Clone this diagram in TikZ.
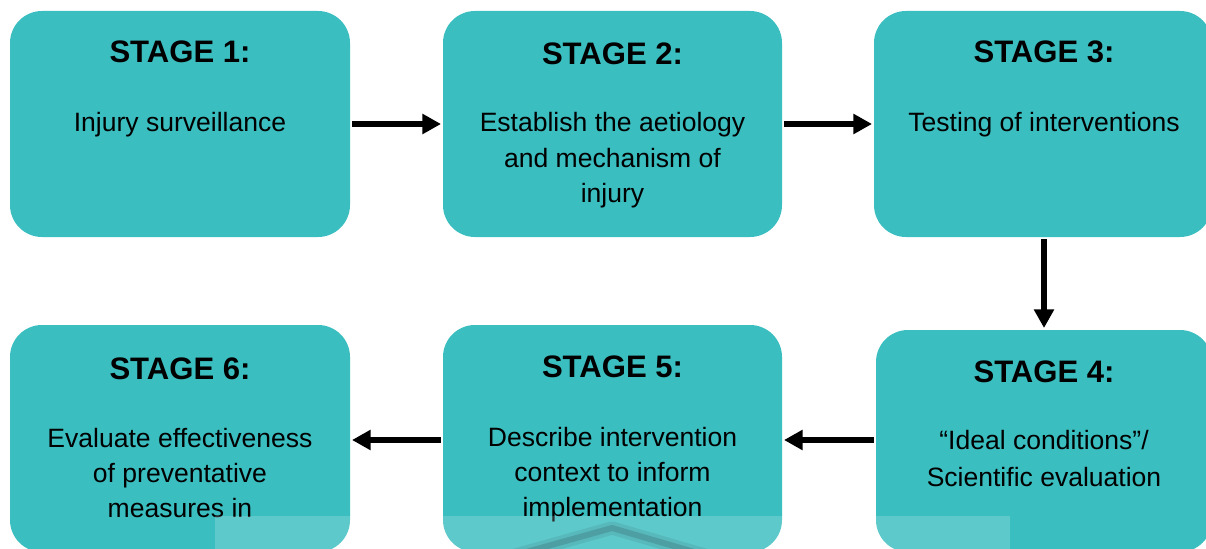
\documentclass[tikz,border=0pt]{standalone}
\usepackage{fontspec}
\setmainfont{Liberation Sans}
\usetikzlibrary{arrows.meta}
\definecolor{tealbox}{HTML}{3BBEC0}
\definecolor{tealdark}{HTML}{237F84}
\tikzset{
  stagebox/.style={fill=tealbox, draw=none, rounded corners=24pt, inner sep=0pt, outer sep=0pt, minimum width=#1},
  stagetitle/.style={anchor=base, inner sep=0pt, font=\fontsize{23.3pt}{28pt}\selectfont\bfseries},
  stagebody/.style={anchor=base, inner sep=0pt, font=\fontsize{19.9pt}{26.6pt}\selectfont},
  flow/.style={line width=4.4pt, -{Triangle[length=14pt,width=14.5pt]}, shorten <=1.5pt, shorten >=1.5pt}
}
\begin{document}
\begin{tikzpicture}[x=0.75pt, y=-0.75pt]
\useasboundingbox (0,0) rectangle (1206,549);
\begin{scope}
\clip (0,0) rectangle (1206,549);
% boxes
\node[stagebox=255pt, minimum height=169.5pt] (b1) at (180,124) {};
\node[stagebox=254.25pt, minimum height=169.5pt] (b2) at (612.5,124) {};
\node[stagebox=253.5pt, minimum height=169.5pt] (b3) at (1043,124) {};
\node[stagebox=252pt, minimum height=166.5pt] (b4) at (1044,441) {};
\node[stagebox=254.25pt, minimum height=170.25pt] (b5) at (612.5,438.5) {};
\node[stagebox=255pt, minimum height=170.25pt] (b6) at (180,438.5) {};
% titles
\node[stagetitle] (t1) at (180,63) {STAGE 1:};
\node[stagetitle] (t2) at (612.5,65) {STAGE 2:};
\node[stagetitle] (t3) at (1044,63) {STAGE 3:};
\node[stagetitle] (t4) at (1044,382) {STAGE 4:};
\node[stagetitle] (t5) at (612.5,377) {STAGE 5:};
\node[stagetitle] (t6) at (180,379) {STAGE 6:};
% bodies
\node[stagebody] (s1) at (180,132) {Injury surveillance};
\node[stagebody] (s2a) at (612.5,132) {Establish the aetiology};
\node[stagebody] (s2b) at (612.5,168) {and mechanism of};
\node[stagebody] (s2c) at (612.5,203) {injury};
\node[stagebody] (s3) at (1044,132) {Testing of interventions};
\node[stagebody] (s4a) at (1044,449) {“Ideal conditions”/};
\node[stagebody] (s4b) at (1044,486) {Scientific evaluation};
\node[stagebody] (s5a) at (612.5,446) {Describe intervention};
\node[stagebody] (s5b) at (612.5,481) {context to inform};
\node[stagebody] (s5c) at (612.5,516) {implementation};
\node[stagebody] (s6a) at (180,447) {Evaluate effectiveness};
\node[stagebody] (s6b) at (180,482) {of preventative};
\node[stagebody] (s6c) at (180,517) {measures in};
% arrows
\draw[flow] (b1.east) -- (b2.west);
\draw[flow] (b2.east) -- (b3.west);
\draw[flow] (b3.south -| b4.north) -- (b4.north);
\draw[flow] (b4.west |- 0,440) -- (b5.east |- 0,440);
\draw[flow] (b5.west |- 0,440) -- (b6.east |- 0,440);
% faint background artefacts
\draw[tealdark, opacity=0.3, line width=10pt, line join=round] (512,556) -- (612,528) -- (708,556);
\draw[tealdark, opacity=0.7, line width=4.5pt, line join=round] (512,556) -- (612,528) -- (708,556);
\fill[white, opacity=0.18] (215,516) rectangle (1010,549);
\end{scope}
\end{tikzpicture}
\end{document}
